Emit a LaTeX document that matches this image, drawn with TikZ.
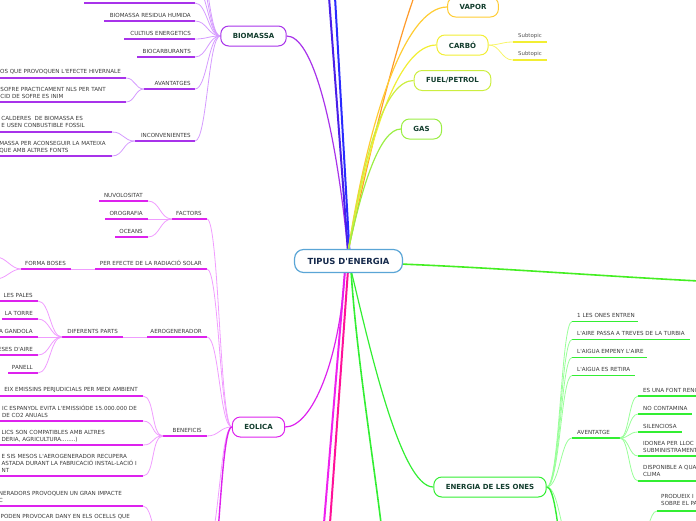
\documentclass[tikz,border=0pt]{standalone}
\usepackage{fontspec}
\usetikzlibrary{calc}
\newfontfamily\dv{DejaVu Sans}
\definecolor{txtc}{HTML}{3A3A3A}
\definecolor{subc}{HTML}{555555}
\definecolor{nodec}{HTML}{123D2D}
\definecolor{ctrc}{HTML}{5AA5D6}
\definecolor{ctrt}{HTML}{14284A}
\definecolor{bio}{HTML}{A833EA}
\definecolor{bioL}{HTML}{D59BFF}
\definecolor{eol}{HTML}{DD22EE}
\definecolor{eolL}{HTML}{F09CFF}
\definecolor{ones}{HTML}{33EE33}
\definecolor{onesL}{HTML}{99FF99}
\definecolor{blueA}{HTML}{4A1FE8}
\definecolor{blueB}{HTML}{2A2AFF}
\definecolor{orng}{HTML}{FF9A2A}
\definecolor{vap}{HTML}{FFCC33}
\definecolor{carb}{HTML}{F2EE33}
\definecolor{carbL}{HTML}{F8F56A}
\definecolor{fuel}{HTML}{CCEE40}
\definecolor{gas}{HTML}{9BEE44}
\definecolor{grR}{HTML}{44EE22}
\definecolor{pinkA}{HTML}{EE22EE}
\definecolor{pinkB}{HTML}{FF1199}
\pgfdeclarelayer{bg}
\pgfsetlayers{bg,main}
\tikzset{
  txt/.style={font=\dv\fontsize{5.6}{7}\selectfont, text=txtc, inner sep=0pt, align=left},
  subt/.style={font=\dv\fontsize{5.4}{6}\selectfont, text=subc, inner sep=0pt},
  mnode/.style={draw=#1, line width=1pt, rounded corners=8pt, fill=white,
     font=\dv\bfseries\fontsize{7}{8}\selectfont, text=nodec,
     minimum height=20pt, inner xsep=12pt, inner ysep=0pt},
  cnode/.style={draw=ctrc, line width=1.2pt, rounded corners=9pt, fill=white,
     font=\dv\bfseries\fontsize{8.4}{9}\selectfont, text=ctrt,
     minimum height=23pt, inner xsep=13pt, inner ysep=0pt},
  ul/.style={draw=#1, line width=1.6pt},
  lk/.style={draw=#1, line width=0.8pt},
  br/.style={draw=#1, line width=1.2pt},
}
\newcommand\mmLitem[8]{%
  \coordinate (#1l) at (#3,#5); \coordinate (#1r) at (#4,#5);
  \draw[ul=#2] (#1l) -- (#1r);
  \node[txt,anchor=east] (#1) at (#6,#7) {#8};}
\newcommand\mmRitem[8]{%
  \coordinate (#1l) at (#3,#5); \coordinate (#1r) at (#4,#5);
  \draw[ul=#2] (#1l) -- (#1r);
  \node[txt,anchor=west] (#1) at (#6,#7) {#8};}
\begin{document}
\begin{tikzpicture}[x=1pt,y=-1pt]
\useasboundingbox (0,0) rectangle (696,520);
\clip (0,0) rectangle (696,520);

% ---------- main nodes ----------
\node[cnode] (ctr) at (348.5,261) {TIPUS D'ENERGIA};
\node[mnode=bio] (biom) at (253.5,36) {BIOMASSA};
\node[mnode=vap] (vapor) at (473,7) {VAPOR};
\node[mnode=carb] (carbo) at (462.5,45) {CARBÓ};
\node[mnode=fuel] (fuelp) at (452.5,80.5) {FUEL/PETROL};
\node[mnode=gas] (gasn) at (421.5,129) {GAS};
\node[mnode=ones] (onesn) at (490,487) {ENERGIA DE LES ONES};
\node[mnode=eol] (eolica) at (258.5,427) {EOLICA};

% ---------- anchors of the centre ----------
\coordinate (ct) at (348,252);
\coordinate (ct2) at (349.5,252);
\coordinate (cb) at (348,270);
\coordinate (cbl) at (345,270);
\coordinate (cbr) at (351,270);
\coordinate (cr) at (400,264);

% ---------- off-picture ends ----------
\coordinate (blueEa) at (329,-3);
\coordinate (blueEb) at (335,-3);
\coordinate (orE) at (414,-3);
\coordinate (grE) at (699,281);
\coordinate (grD) at (381,523);
\coordinate (pkA) at (324,523);
\coordinate (pkB) at (330,523);

\begin{pgfonlayer}{bg}
% ---------- branches from centre ----------
\draw[br=bio] (ct) .. controls (335,120) and (312,36) .. (biom.east);
\draw[draw=blueA, line width=2pt] (ct) -- (blueEa);
\draw[draw=blueB, line width=2pt] (ct2) -- (blueEb);
\draw[br=orng] (ct) .. controls (370,150) and (395,50) .. (orE);
\draw[br=vap] (ct) .. controls (368,120) and (405,7) .. (vapor.west);
\draw[br=carb] (ct) .. controls (370,130) and (400,45) .. (carbo.west);
\draw[br=fuel] (ct) .. controls (365,150) and (385,80.5) .. (fuelp.west);
\draw[br=gas] (ct) .. controls (362,185) and (380,129) .. (gasn.west);
\draw[draw=grR, line width=1.6pt] (cr) .. controls (500,268) and (600,276) .. (grE);
\draw[br=ones] (cbr) .. controls (368,340) and (400,487) .. (onesn.west);
\draw[draw=ones, line width=1.6pt] (cbr) .. controls (356,350) and (372,450) .. (grD);
\draw[draw=pinkA, line width=2pt] (cbl) -- (pkA);
\draw[draw=pinkB, line width=2pt] (cb) -- (pkB);
\draw[br=eol] (cbl) .. controls (340,360) and (312,427) .. (eolica.east);

% ---------- BIOMASSA children ----------
\coordinate (b0l) at (84,3); \coordinate (b0r) at (195,3);
\draw[ul=bio] (b0l) -- (b0r);
\mmLitem{b1}{bio}{104}{195}{21}{191}{15}{BIOMASSA RESIDUA HUMIDA}
\mmLitem{b2}{bio}{124}{195}{39}{191}{33}{CULTIUS ENERGETICS}
\mmLitem{b3}{bio}{137}{195}{57}{191}{51}{BIOCARBURANTS}
\mmLitem{b4}{bio}{144}{195}{89}{191}{83}{AVANTATGES}
\mmLitem{b5}{bio}{135}{195}{141}{191}{135}{INCONVENIENTES}
\coordinate (bx1) at (195,-14);
\coordinate (bx2) at (195,-32);
\coordinate (bx3) at (195,-52);
\foreach \k in {b0r,b1r,b2r,b3r,b4r,b5r,bx1,bx2,bx3}
  \draw[lk=bioL] (biom.west) .. controls +(-12,0) and +(12,0) .. (\k);

\mmLitem{a1}{bio}{-2}{126}{78}{121}{72}{SOS QUE PROVOQUEN L'EFECTE HIVERNALE}
\mmLitem{a2}{bio}{-2}{126}{102}{106}{93}{SOFRE PRACTICAMENT NLS PER TANT\\CID DE SOFRE ES INIM}
\foreach \k in {a1r,a2r}
  \draw[lk=bioL] (b4l) .. controls +(-9,0) and +(9,0) .. (\k);
\mmLitem{i1}{bio}{-2}{112}{132}{85}{122}{CALDERES~ DE BIOMASSA ES\\E USEN CONBUSTIBLE FOSSIL}
\mmLitem{i2}{bio}{-2}{112}{156}{106}{147}{MASSA PER ACONSEGUIR LA MATEIXA\\QUE AMB ALTRES FONTS}
\foreach \k in {i1r,i2r}
  \draw[lk=bioL] (b5l) .. controls +(-12,0) and +(12,0) .. (\k);

% ---------- EOLICA children ----------
\mmLitem{ef}{eol}{172}{207}{219}{202}{213}{FACTORS}
\mmLitem{nu}{eol}{99}{148}{201}{143}{195}{NUVOLOSITAT}
\mmLitem{oro}{eol}{105}{148}{219}{143}{213}{OROGRAFIA}
\mmLitem{oce}{eol}{115}{148}{237}{143}{231}{OCEANS}
\foreach \k in {nur,oror,ocer}
  \draw[lk=eolL] (efl) .. controls +(-12,0) and +(12,0) .. (\k);

\mmLitem{ep}{eol}{95}{207}{269}{202}{263}{PER EFECTE DE LA RADIACIÓ SOLAR}
\mmLitem{fb}{eol}{21}{71}{269}{66}{263}{FORMA BOSES}
\draw[lk=eolL] (epl) -- (fbr);
\coordinate (fbk1) at (-4,257);
\coordinate (fbk2) at (-4,279);
\foreach \k in {fbk1,fbk2}
  \draw[lk=eolL] (fbl) .. controls +(-10,0) and +(10,0) .. (\k);

\mmLitem{ea}{eol}{147}{207}{337}{202}{331}{AEROGENERADOR}
\mmLitem{dp}{eol}{62}{123}{337}{118}{331}{DIFERENTS PARTS}
\draw[lk=eolL] (eal) -- (dpr);
\mmLitem{p1}{eol}{-2}{38}{301}{33}{295}{LES PALES}
\mmLitem{p2}{eol}{2}{38}{319}{33}{313}{LA TORRE}
\mmLitem{p3}{eol}{-2}{38}{337}{33}{331}{A GANDOLA}
\mmLitem{p4}{eol}{-2}{38}{355}{33}{349}{ESES D'AIRE}
\mmLitem{p5}{eol}{8}{38}{373}{33}{367}{PANELL}
\foreach \k in {p1r,p2r,p3r,p4r,p5r}
  \draw[lk=eolL] (dpl) .. controls +(-12,0) and +(12,0) .. (\k);

\mmLitem{eb}{eol}{163}{207}{436}{202}{430}{BENEFICIS}
\mmLitem{k1}{eol}{-2}{143}{396}{138}{390}{EIX EMISSINS PERJUDICIALS PER MEDI AMBIENT}
\mmLitem{k2}{eol}{-2}{143}{421}{137}{411.5}{IC ESPANYOL EVITA L'EMISSIÓDE 15.000.000 DE\\DE CO2 ANUALS}
\mmLitem{k3}{eol}{-2}{143}{445}{105}{436}{LICS SON COMPATIBLES AMB ALTRES\\DERIA, AGRICULTURA........)}
\mmLitem{k4}{eol}{-2}{143}{476}{137}{463.5}{E SIS MESOS L'AEROGENERADOR RECUPERA\\ASTADA DURANT LA FABRICACIÓ INSTAL-LACIÓ I\\NT}
\foreach \k in {k1r,k2r,k3r,k4r}
  \draw[lk=eolL] (ebl) .. controls +(-12,0) and +(12,0) .. (\k);

\mmLitem{k5}{eol}{-2}{143}{506}{122}{496.5}{NERADORS PROVOQUEN UN GRAN IMPACTE\\C}
\node[txt,anchor=east] (k6) at (130,517) {PODEN PROVOCAR DANY EN ELS OCELLS QUE};
\coordinate (eincl) at (163,545);
\coordinate (eincr) at (207,545);
\coordinate (eincb) at (207,600);
\draw[lk=eolL] (eincl) .. controls +(-10,0) and +(10,0) .. (k5r);

\foreach \k in {efr,epr,ear,ebr,eincr}
  \draw[lk=eolL] (eolica.west) .. controls +(-12,0) and +(12,0) .. (\k);
\draw[draw=eol, line width=1.4pt] (eolica.west) .. controls +(-12,0) and +(12,0) .. (eincb);

% ---------- CARBO subtopics ----------
\coordinate (s1l) at (513,42); \coordinate (s1r) at (547,42);
\coordinate (s2l) at (513,60); \coordinate (s2r) at (547,60);
\draw[draw=carb, line width=1.4pt] (s1l) -- (s1r);
\draw[draw=carb, line width=1.4pt] (s2l) -- (s2r);
\node[subt,anchor=west] (st1) at (518,36) {Subtopic};
\node[subt,anchor=west] (st2) at (518,54) {Subtopic};
\foreach \k in {s1l,s2l}
  \draw[lk=carbL] (carbo.east) .. controls +(12,0) and +(-12,0) .. (\k);

% ---------- ENERGIA DE LES ONES children ----------
\mmRitem{o1}{ones}{572}{638}{321.5}{577}{315}{1 LES ONES ENTREN}
\mmRitem{o2}{ones}{572}{690}{339.5}{577}{333}{L'AIRE PASSA A TREVES DE LA TURBIA}
\mmRitem{o3}{ones}{572}{647}{357.5}{577}{351}{L'AIGUA EMPENY L'AIRE}
\mmRitem{o4}{ones}{572}{635}{375.5}{577}{369}{L'AIGUA ES RETIRA}
\mmRitem{o5}{ones}{572}{620}{438}{577}{432}{AVENTATGE}
\coordinate (od1) at (572,545);
\coordinate (od2) at (572,600);
\foreach \k in {o1l,o2l,o3l,o4l,o5l,od1}
  \draw[lk=onesL] (onesn.east) .. controls +(13,0) and +(-11,0) .. (\k);
\draw[draw=ones, line width=1.4pt] (onesn.east) .. controls +(13,0) and +(-11,0) .. (od2);

\mmRitem{v1}{ones}{638}{699}{396}{643}{390}{ES UNA FONT RENO}
\mmRitem{v2}{ones}{638}{692}{414}{643}{408}{NO CONTAMINA}
\mmRitem{v3}{ones}{638}{682}{432}{643}{426}{SILENCIOSA}
\mmRitem{v4}{ones}{638}{699}{456}{643}{447}{IDONEA PER LLOC\\SUBMINISTRAMENT}
\mmRitem{v5}{ones}{638}{699}{481}{643}{471}{DISPONIBLE A QUA\\CLIMA}
\foreach \k in {v1l,v2l,v3l,v4l,v5l}
  \draw[lk=onesL] (o5r) .. controls +(9,0) and +(-9,0) .. (\k);

\mmRitem{pr}{ones}{657}{699}{511}{661}{500}{PRODUEIX I\\SOBRE EL PA}
\coordinate (opar) at (640,540);
\draw[lk=onesL] (opar) .. controls +(8,0) and +(-8,0) .. (prl);
\end{pgfonlayer}
\end{tikzpicture}
\end{document}
